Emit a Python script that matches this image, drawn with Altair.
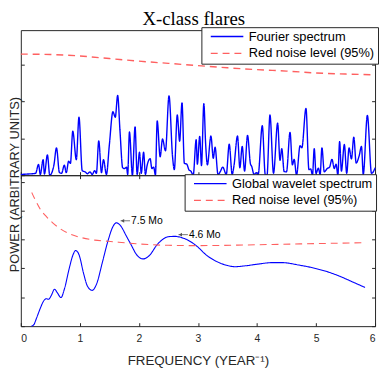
import altair as alt
import pandas as pd

# ---------------- data ----------------
fourier_freq = [0.00, 0.10, 0.20, 0.25, 0.30, 0.33, 0.378, 0.40, 0.45, 0.49, 0.56, 0.604, 0.654, 0.69,
                0.737, 0.77, 0.81, 0.84, 0.88, 0.94, 0.985, 1.04, 1.09, 1.13, 1.17, 1.21, 1.25, 1.28,
                1.32, 1.366, 1.40, 1.45, 1.50, 1.56, 1.60, 1.64, 1.68, 1.725, 1.76, 1.79, 1.81, 1.84,
                1.89, 1.935, 1.97, 2.01, 2.04, 2.08, 2.11, 2.14, 2.19, 2.22, 2.25, 2.28, 2.31, 2.36,
                2.40, 2.45, 2.51, 2.57, 2.60, 2.65, 2.69, 2.73, 2.77, 2.81, 2.85, 2.88, 2.92, 2.97,
                2.99, 3.03, 3.06, 3.10, 3.13, 3.16, 3.22, 3.26, 3.29, 3.34, 3.38, 3.42, 3.48, 3.53,
                3.58, 3.61, 3.67, 3.71, 3.75, 3.79, 3.84, 3.89, 3.91, 3.95, 3.99, 4.02, 4.09, 4.14,
                4.17, 4.22, 4.28, 4.35, 4.39, 4.42, 4.46, 4.50, 4.56, 4.60, 4.63, 4.67, 4.73, 4.76,
                4.83, 4.88, 4.91, 4.94, 4.97, 5.00, 5.04, 5.07, 5.10, 5.14, 5.19, 5.23, 5.27, 5.31,
                5.34, 5.37, 5.40, 5.43, 5.48, 5.52, 5.56, 5.60, 5.64, 5.68, 5.73, 5.77, 5.80, 5.87,
                5.94, 5.98, 6.00]
fourier_power = [0.02, 0.03, 0.04, 0.05, 0.29, 0.02, 0.42, 0.03, 0.55, 0.00, 0.27, 0.74, 0.07, 0.05,
                 0.27, 0.07, 0.38, 0.32, 1.19, 0.42, 1.57, 0.12, 0.09, 0.04, 0.09, 0.02, 0.12, 0.05,
                 0.93, 0.07, 0.42, 0.02, 0.83, 1.72, 1.57, 2.16, 1.19, 0.20, 0.18, 0.22, 0.02, 1.17,
                 0.00, 1.31, 0.02, 0.62, 0.05, 0.62, 0.02, 0.27, 0.45, 0.18, 0.22, 0.00, 1.47, 0.50,
                 0.98, 0.66, 2.15, 0.50, 0.15, 1.63, 0.92, 1.96, 0.32, 0.30, 0.14, 0.11, 0.00, 0.96,
                 0.30, 1.05, 0.26, 1.94, 0.86, 0.28, 1.06, 0.46, 0.76, 0.02, 0.10, 0.22, 0.02, 0.84,
                 0.02, 0.25, 1.06, 0.20, 0.78, 0.11, 1.08, 0.30, 0.24, 0.02, 0.07, 0.02, 1.34, 0.02,
                 0.00, 1.63, 0.05, 1.41, 0.40, 0.72, 0.10, 0.09, 1.16, 0.28, 0.43, 0.00, 0.80, 0.74,
                 1.81, 0.15, 0.17, 0.00, 0.72, 0.05, 0.19, 0.02, 0.74, 0.09, 0.18, 0.22, 0.43, 0.18,
                 0.30, 0.00, 0.91, 0.11, 0.83, 0.05, 0.74, 0.44, 1.03, 0.33, 0.52, 0.78, 0.02, 1.62,
                 0.05, 0.12, 0.20]

red_top_freq = [0.0, 0.5, 1.0, 1.5, 2.0, 2.5, 3.0, 3.5, 4.0, 4.5, 5.0, 5.5, 6.0]
red_top_level = [3.28, 3.27, 3.23, 3.16, 3.09, 3.03, 2.97, 2.91, 2.86, 2.82, 2.77, 2.74, 2.72]

wavelet_freq = [0.18, 0.22, 0.27, 0.33, 0.38, 0.43, 0.47, 0.52, 0.57, 0.62, 0.68, 0.74, 0.82, 0.88,
                0.93, 0.99, 1.06, 1.13, 1.21, 1.29, 1.38, 1.48, 1.56, 1.62, 1.70, 1.78, 1.86, 1.96,
                2.07, 2.18, 2.30, 2.40, 2.50, 2.61, 2.72, 2.81, 2.97, 3.15, 3.36, 3.50, 3.63, 3.80,
                4.02, 4.25, 4.43, 4.70, 5.01, 5.20, 5.40, 5.60, 5.83]
wavelet_power = [0.00, 0.05, 0.30, 0.62, 0.85, 0.95, 0.93, 1.08, 1.28, 1.15, 0.99, 1.30, 2.00, 2.45,
                 2.62, 2.45, 1.85, 1.38, 1.24, 1.50, 2.20, 2.98, 3.45, 3.58, 3.45, 3.15, 2.85, 2.48,
                 2.33, 2.45, 2.80, 3.00, 3.10, 3.11, 3.07, 3.00, 2.79, 2.45, 2.20, 2.10, 2.06, 2.09,
                 2.15, 2.20, 2.20, 2.12, 1.99, 1.88, 1.73, 1.55, 1.34]

red_bot_freq = [0.185, 0.25, 0.33, 0.43, 0.54, 0.65, 0.80, 1.04, 1.25, 1.48, 1.98, 2.50, 3.00, 4.00, 5.00, 5.83]
red_bot_level = [4.63, 4.35, 4.05, 3.80, 3.58, 3.40, 3.22, 3.06, 2.98, 2.94, 2.85, 2.80, 2.79, 2.82, 2.86, 2.89]

peak_labels = ["7.5 Mo", "4.6 Mo"]
peak_tip_freq = [1.69, 2.67]
peak_tail_freq = [1.85, 2.83]
peak_power = [3.65, 3.17]

x_ticks = [0, 1, 2, 3, 4, 5, 6]
top_y_ticks = [0, 1, 2, 3, 4]
bot_y_ticks = [0, 1, 2, 3, 4, 5]
top_series = ["Fourier spectrum", "Red noise level (95%)"]
bot_series = ["Global wavelet spectrum", "Red noise level (95%)"]

# ---------------- style ----------------
FONT = "Liberation Sans"
BLUE = "#0000ff"
RED = "#ff6060"
AX = "#262626"
W = 359
H_TOP = 147
H_BOT = 153
TS = 3.5

xscale = alt.Scale(domain=[0, 6], nice=False, zero=False)
top_y = alt.Scale(domain=[0, 3.93], nice=False)
bot_y = alt.Scale(domain=[0, 5.23], nice=False)


def tick_axis(orient, values, **kw):
    return alt.Axis(orient=orient, values=values, labels=False, title=None, domain=False,
                    grid=False, ticks=True, tickSize=TS, offset=-TS, tickColor=AX, **kw)


def legend(sw, off):
    # a 33px horizontal line symbol (custom path, scaled by sqrt(size)/2)
    return alt.Legend(title=None, orient="top-right", offset=off, strokeColor=AX, fillColor="white",
                      padding=3, symbolType="M0,0H6", symbolSize=121, symbolStrokeWidth=sw,
                      labelFont=FONT, labelFontSize=13, labelColor="black", labelOffset=32,
                      rowPadding=3)


# ---------------- top panel ----------------
top_df = pd.concat([
    pd.DataFrame({"f": fourier_freq, "p": fourier_power, "series": top_series[0]}),
    pd.DataFrame({"f": red_top_freq, "p": red_top_level, "series": top_series[1]}),
])

top_lines = alt.Chart(top_df).mark_line(strokeWidth=1.4, interpolate="monotone").encode(
    x=alt.X("f:Q", scale=xscale, axis=tick_axis("bottom", x_ticks)),
    y=alt.Y("p:Q", scale=top_y, axis=tick_axis("left", top_y_ticks)),
    color=alt.Color("series:N", scale=alt.Scale(domain=top_series, range=[BLUE, RED]),
                    legend=legend(1.4, -3)),
    strokeDash=alt.StrokeDash("series:N", scale=alt.Scale(domain=top_series, range=[[1, 0], [7, 5]]),
                              legend=legend(1.4, -3)),
)

top_frame = alt.Chart(pd.DataFrame({"f": red_top_freq, "p": red_top_level})).mark_line(opacity=0).encode(
    x=alt.X("f:Q", scale=xscale, axis=tick_axis("bottom", x_ticks)),
    y=alt.Y("p:Q", scale=top_y, axis=tick_axis("right", top_y_ticks)),
)

top = alt.layer(top_lines, top_frame).resolve_axis(y="independent").properties(width=W, height=H_TOP)

# ---------------- bottom panel ----------------
bot_df = pd.concat([
    pd.DataFrame({"f": wavelet_freq, "p": wavelet_power, "series": bot_series[0]}),
    pd.DataFrame({"f": red_bot_freq, "p": red_bot_level, "series": bot_series[1]}),
])

bot_lines = alt.Chart(bot_df).mark_line(strokeWidth=1.1, interpolate="monotone").encode(
    x=alt.X("f:Q", scale=xscale,
            axis=alt.Axis(orient="bottom", values=x_ticks, domain=False, grid=False, tickSize=TS, offset=-TS,
                          tickColor=AX, labelFont=FONT, labelFontSize=10.5, labelColor=AX, labelPadding=8,
                          title="FREQUENCY (YEAR\u207b\u00b9)", titleFont=FONT, titleFontSize=13.5,
                          titleFontWeight="normal", titleColor=AX, titlePadding=9)),
    y=alt.Y("p:Q", scale=bot_y,
            axis=alt.Axis(orient="left", values=bot_y_ticks, labels=False, domain=False, grid=False,
                          tickSize=TS, offset=-TS, tickColor=AX,
                          title="POWER (ARBITRARY UNITS)", titleFont=FONT, titleFontSize=13,
                          titleFontWeight="normal", titleColor=AX, titleAngle=270,
                          titleX=-2.5, titleY=9, titleAlign="center", titleBaseline="bottom")),
    color=alt.Color("series:N", scale=alt.Scale(domain=bot_series, range=[BLUE, RED]),
                    legend=legend(1.2, -1)),
    strokeDash=alt.StrokeDash("series:N", scale=alt.Scale(domain=bot_series, range=[[1, 0], [7, 5]]),
                              legend=legend(1.2, -1)),
)

bot_frame = alt.Chart(pd.DataFrame({"f": red_bot_freq, "p": red_bot_level})).mark_line(opacity=0).encode(
    x=alt.X("f:Q", scale=xscale, axis=tick_axis("top", x_ticks)),
    y=alt.Y("p:Q", scale=bot_y, axis=tick_axis("right", bot_y_ticks)),
)

ann_df = pd.DataFrame({"label": peak_labels, "tip": peak_tip_freq, "tail": peak_tail_freq, "p": peak_power})

arrows = alt.Chart(ann_df).mark_rule(color="#555555", strokeWidth=0.8).encode(
    x=alt.X("tip:Q", scale=xscale, axis=None),
    x2="tail:Q",
    y=alt.Y("p:Q", scale=bot_y, axis=None),
)
heads = alt.Chart(ann_df).mark_point(shape="triangle-left", filled=True, color="#555555", size=14,
                                     opacity=1, xOffset=2).encode(
    x=alt.X("tip:Q", scale=xscale, axis=None),
    y=alt.Y("p:Q", scale=bot_y, axis=None),
)
ann_text = alt.Chart(ann_df).mark_text(align="left", baseline="middle", font=FONT, fontSize=10.5,
                                       color="black", dx=1).encode(
    x=alt.X("tail:Q", scale=xscale, axis=None),
    y=alt.Y("p:Q", scale=bot_y, axis=None),
    text="label:N",
)

bottom = alt.layer(bot_lines, bot_frame, arrows, heads, ann_text).resolve_axis(
    x="independent", y="independent").properties(width=W, height=H_BOT)

chart = alt.vconcat(top, bottom, spacing=0, bounds="flush").resolve_scale(
    x="independent", y="independent", color="independent", strokeDash="independent"
).resolve_legend(color="independent", strokeDash="independent").properties(
    title=alt.TitleParams("X-class flares", font="Liberation Serif", fontSize=19, fontWeight="normal",
                          color="black", anchor="middle", offset=-3),
    padding=0,
).configure_view(stroke=AX, strokeWidth=1)

chart.save("out.html", embed_options={"renderer": "svg", "actions": False})
